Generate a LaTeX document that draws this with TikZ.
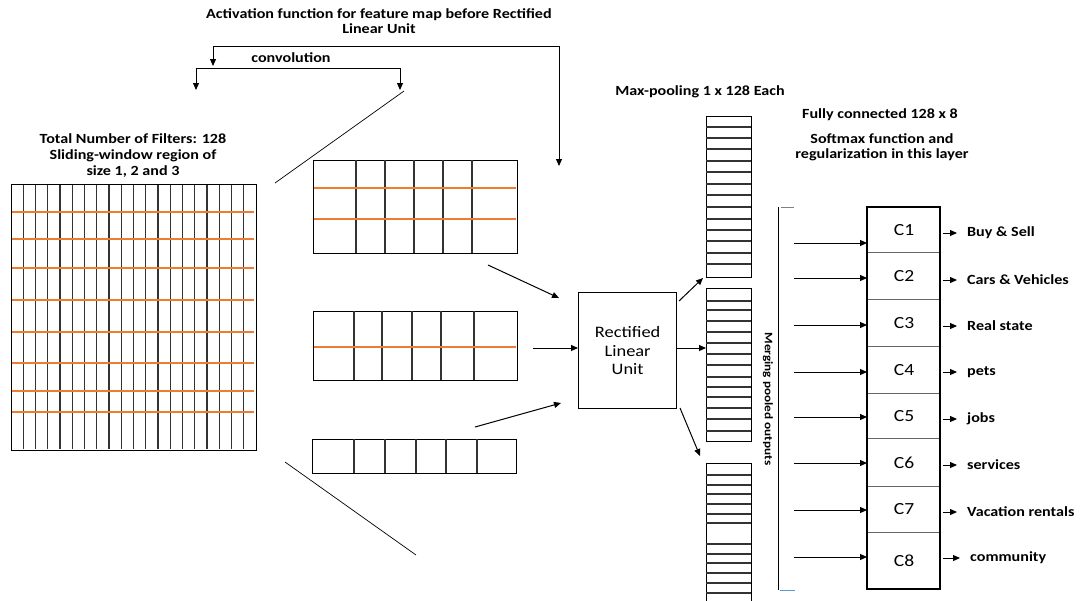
\documentclass[tikz,border=0pt]{standalone}
\usepackage{fontspec}
\setmainfont{Carlito}[FakeStretch=1.15]
\usetikzlibrary{arrows.meta}
\definecolor{orng}{RGB}{237,125,49}
\definecolor{tickblue}{RGB}{91,155,213}
\begin{document}
\begin{tikzpicture}[x=1pt,y=-1pt,
  lbl/.style={font=\fontsize{14}{15}\selectfont\bfseries, inner sep=0pt, align=center},
  boxed/.style={draw=black, line width=1.3pt, inner sep=0pt, anchor=north west},
  gline/.style={draw=black!80, line width=1.1pt},
  oline/.style={draw=orng, line width=1.6pt},
  arr/.style={-{Triangle[length=7pt,width=6pt]}, line width=1pt},
  thin/.style={line width=0.7pt},
  cell/.style={draw=black!60, line width=1pt, minimum width=73pt, inner sep=0pt, anchor=north west, font=\fontsize{17}{19}\selectfont},
  outl/.style={font=\fontsize{14}{15}\selectfont\bfseries, anchor=west, inner sep=0pt}
]
\useasboundingbox (0,0) rectangle (1083,600);

% texts at top
\node[lbl] (act) at (379,21) {Activation function for feature map before Rectified\\Linear Unit};
\node[lbl] (conv) at (291,58) {convolution};
\node[lbl, font=\fontsize{14}{16}\selectfont\bfseries] (filt) at (133,156) {Total Number of Filters: 128\\Sliding-window region of\\size 1, 2 and 3};
\node[lbl] (mp) at (700,92) {Max-pooling 1 x 128 Each};
\node[lbl] (fc) at (880,115) {Fully connected 128 x 8};
\node[lbl] (sm) at (882,147) {Softmax function and\\regularization in this layer};

% brackets
\coordinate (ob1) at (213,46); \coordinate (ob2) at (559,46);
\coordinate (obt1) at (213,66); \coordinate (obt2) at (559,166);
\draw[arr] (ob2) -- (ob1) -- (obt1);
\draw[arr] (ob1) -- (ob2) -- (obt2);
\coordinate (cb1) at (196,68); \coordinate (cb2) at (400,68);
\coordinate (cbt1) at (196,90); \coordinate (cbt2) at (400,90);
\draw[arr] (cb2) -- (cb1) -- (cbt1);
\draw[arr] (cb1) -- (cb2) -- (cbt2);

% input grid
\node[boxed, minimum width=245pt, minimum height=266pt] (inp) at (11,184) {};
\foreach \k in {1,...,19} {
  \draw[gline] ({11+\k*12.25},185) -- ({11+\k*12.25},449);
}
\foreach \y in {212,239,268,300,332,363,391,412} {
  \draw[oline] (12,\y) -- (254,\y);
}

% perspective lines
\coordinate (d1a) at (404,91); \coordinate (d1b) at (275,183);
\coordinate (d2a) at (285,462); \coordinate (d2b) at (416,555);
\draw[thin] (d1a) -- (d1b);
\draw[thin] (d2a) -- (d2b);

% feature map 1
\node[boxed, minimum width=204pt, minimum height=93pt] (fm1) at (313,160) {};
\foreach \x in {356,385,414,443,472} { \draw[gline] (\x,160) -- (\x,253); }
\foreach \y in {188,219} { \draw[oline] (314,\y) -- (516,\y); }
% feature map 2
\node[boxed, minimum width=204pt, minimum height=69pt] (fm2) at (313,311) {};
\foreach \x in {354,382,412,441,474} { \draw[gline] (\x,311) -- (\x,380); }
\draw[oline] (314,347) -- (516,347);
% feature map 3
\node[boxed, minimum width=204pt, minimum height=34pt] (fm3) at (312,439) {};
\foreach \x in {354,385,416,446,477} { \draw[gline] (\x,439) -- (\x,473); }

% ReLU
\node[boxed, minimum width=98pt, minimum height=116pt] (relu) at (578,292) {};
\node[font=\fontsize{16}{18.5}\selectfont, align=center, inner sep=0pt] (relut) at (relu.center) {Rectified\\Linear\\Unit};

% arrows into ReLU
\coordinate (a1) at (488,265); \coordinate (a1e) at (559,298);
\coordinate (a2) at (533,348);
\coordinate (a3) at (475,427); \coordinate (a3e) at (561,403);
\draw[arr] (a1) -- (a1e);
\draw[arr] (a2) -- (relu.west |- a2);
\draw[arr] (a3) -- (a3e);

% pooled columns
\node[boxed, minimum width=45pt, minimum height=161pt] (p1) at (706,116) {};
\foreach \y in {127,138,149,161,172,184,195,207,219,230,241,253,264} { \draw[gline] (706,\y) -- (751,\y); }
\node[boxed, minimum width=45pt, minimum height=153pt] (p2) at (706,288) {};
\foreach \y in {301,310,321,332,343,354,365,377,387,397,408,419,431} { \draw[gline] (706,\y) -- (751,\y); }
\node[boxed, minimum width=45pt, minimum height=150pt] (p3) at (706,463) {};
\foreach \y in {475,485,494,504,514,523,544,554,563,573,583,593} { \draw[gline] (706,\y) -- (751,\y); }

% arrows from ReLU
\coordinate (r1) at (679,301); \coordinate (r1e) at (703,278);
\coordinate (r3) at (680,408); \coordinate (r3e) at (700,456);
\draw[arr] (r1) -- (r1e);
\draw[arr] (relu.east |- a2) -- (p2.west |- a2);
\draw[arr] (r3) -- (r3e);

% merging bracket
\coordinate (mb1) at (778,207); \coordinate (mb2) at (778,590);
\draw[line width=1pt] (mb1) -- (mb2);
\draw[draw=black!50, line width=1pt] (781,207) -- (794,207);
\draw[draw=tickblue, line width=1pt] (780,590) -- (795,590);
\node[lbl, font=\fontsize{11.5}{13}\selectfont\bfseries, rotate=-90] (merge) at (768,399) {Merging pooled outputs};

% classifier cells
\node[cell, minimum height=45pt] (c1) at (867,207) {C1};
\node[cell, minimum height=47pt] (c2) at (867,252) {C2};
\node[cell, minimum height=47pt] (c3) at (867,299) {C3};
\node[cell, minimum height=47pt] (c4) at (867,346) {C4};
\node[cell, minimum height=45pt] (c5) at (867,393) {C5};
\node[cell, minimum height=48pt] (c6) at (867,438) {C6};
\node[cell, minimum height=46pt] (c7) at (867,486) {C7};
\node[cell, minimum height=57pt] (c8) at (867,532) {C8};
\draw[line width=1.3pt] (867,207) rectangle (940,589);

% input arrows
\foreach \i/\y in {1/243,2/278,3/325,4/372,5/417,6/463,7/510,8/557} {
  \coordinate (s\i) at (794,\y);
  \draw[arr] (s\i) -- (c\i.west |- s\i);
}

% output labels
\node[outl] (l1) at (967,233) {Buy \& Sell};
\node[outl] (l2) at (967,280) {Cars \& Vehicles};
\node[outl] (l3) at (967,326) {Real state};
\node[outl] (l4) at (967,372) {pets};
\node[outl] (l5) at (967,419) {jobs};
\node[outl] (l6) at (967,465) {services};
\node[outl] (l7) at (967,512) {Vacation rentals};
\node[outl] (l8) at (970,558) {community};
\foreach \i in {1,...,8} {
  \draw[arr] (c\i.east |- l\i.west) ++(2,0) -- ([xshift=-10pt]l\i.west);
}
\end{tikzpicture}
\end{document}
